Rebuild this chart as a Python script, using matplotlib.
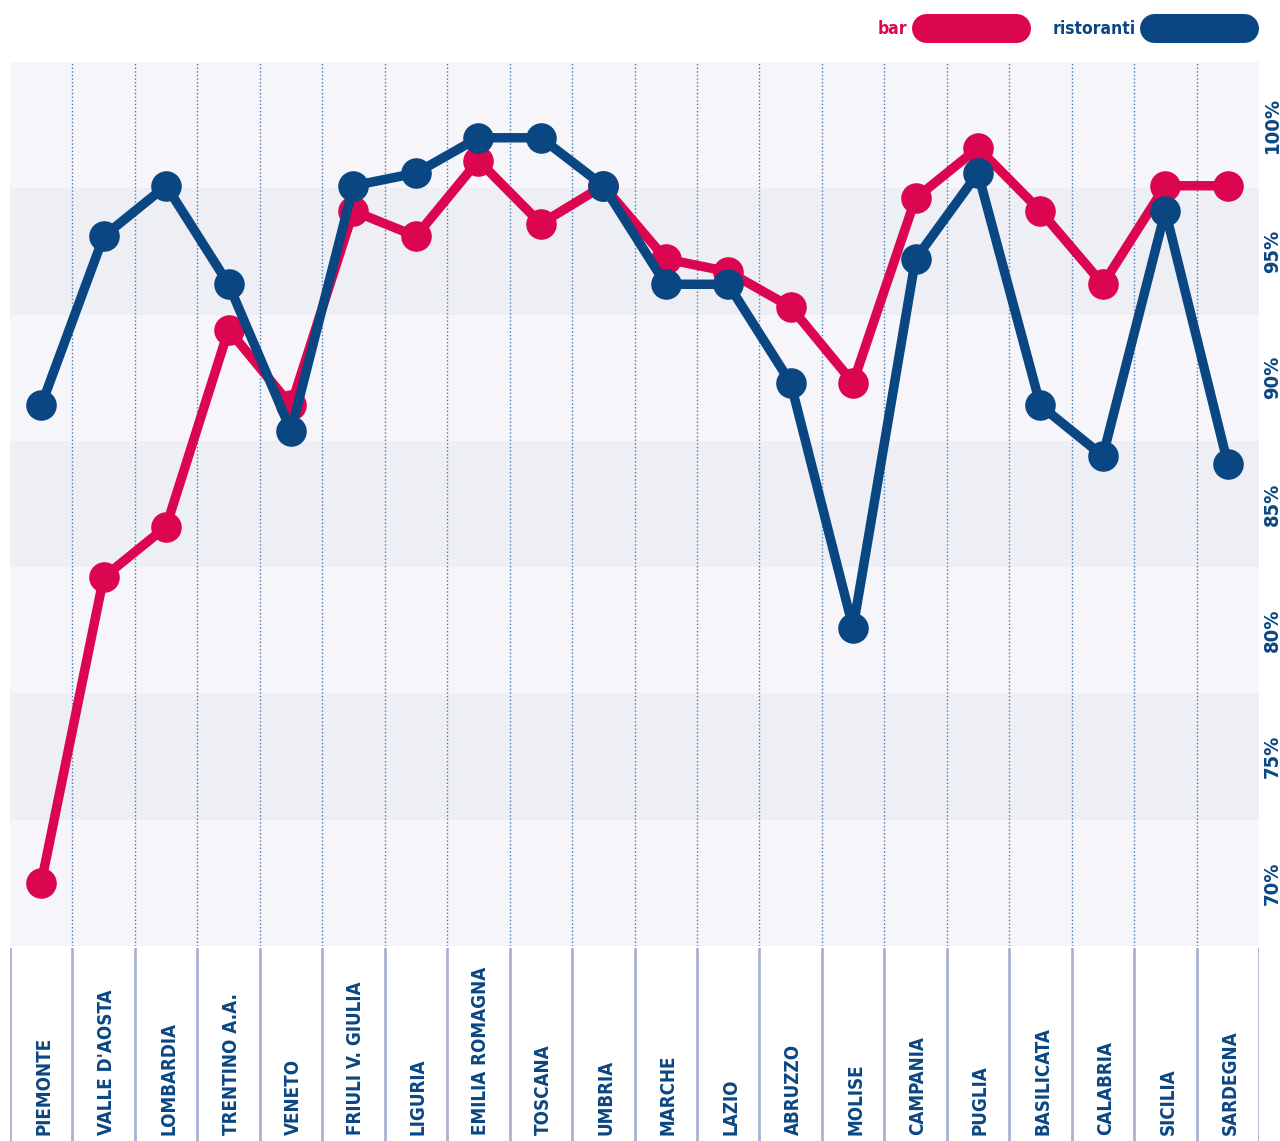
import matplotlib
matplotlib.use("Agg")
import matplotlib.pyplot as plt
from matplotlib.lines import Line2D
import numpy as np

regions = ["PIEMONTE", "VALLE D'AOSTA", "LOMBARDIA", "TRENTINO A.A.", "VENETO",
           "FRIULI V. GIULIA", "LIGURIA", "EMILIA ROMAGNA", "TOSCANA", "UMBRIA",
           "MARCHE", "LAZIO", "ABRUZZO", "MOLISE", "CAMPANIA", "PUGLIA",
           "BASILICATA", "CALABRIA", "SICILIA", "SARDEGNA"]
bar = [70.0, 82.1, 84.1, 91.9, 88.9, 96.6, 95.6, 98.6, 96.1, 97.6,
       94.7, 94.2, 92.8, 89.8, 97.1, 99.1, 96.6, 93.7, 97.6, 97.6]
ristoranti = [88.9, 95.6, 97.6, 93.7, 87.9, 97.6, 98.1, 99.5, 99.5, 97.6,
              93.7, 93.7, 89.8, 80.1, 94.7, 98.1, 88.9, 86.9, 96.6, 86.6]
yticks = [70, 75, 80, 85, 90, 95, 100]
ytick_labels = ["70%", "75%", "80%", "85%", "90%", "95%", "100%"]
series_names = ["bar", "ristoranti"]

RED = "#DC0650"
BLUE = "#0A4682"
BAND_LIGHT = "#F5F5FA"
BAND_DARK = "#EEEFF5"
FONT = dict(family="DejaVu Sans", stretch="condensed", fontweight="bold")

W, H = 1280, 1141
fig = plt.figure(figsize=(W / 100, H / 100), dpi=100)
fig.patch.set_facecolor("white")

def fx(px):
    return px / W

def fy(py):
    return 1 - py / H

ax_left, ax_right, ax_top, ax_bot = 10, 1259, 62, 946
ax = fig.add_axes([fx(ax_left), fy(ax_bot), fx(ax_right - ax_left), (ax_bot - ax_top) / H])
n = len(regions)
x = np.arange(n)
ax.set_xlim(-0.5, n - 0.5)
ax.set_ylim(67.5, 102.5)

# bands
for i, t in enumerate(yticks):
    col = BAND_LIGHT if (len(yticks) - 1 - i) % 2 == 0 else BAND_DARK
    ax.axhspan(t - 2.5, t + 2.5, color=col, lw=0, zorder=0)

# dotted separators
for i in range(n - 1):
    ax.axvline(i + 0.5, color="#4A78B5", lw=1.0, linestyle=(0, (1, 1.6)), zorder=1)

lw = 6.8
ms = 21
ax.plot(x, bar, color=RED, lw=lw, marker="o", ms=ms, mec=RED, mfc=RED,
        solid_joinstyle="round", zorder=3)
ax.plot(x, ristoranti, color=BLUE, lw=lw, marker="o", ms=ms, mec=BLUE, mfc=BLUE,
        solid_joinstyle="round", zorder=4)

for s in ax.spines.values():
    s.set_visible(False)
ax.set_xticks([])
ax.yaxis.tick_right()
ax.set_yticks(yticks)
ax.set_yticklabels(ytick_labels, rotation=90, va="center", fontsize=14.5, color=BLUE, **FONT)
ax.tick_params(axis="y", length=0, pad=3)

# label area
lab = fig.add_axes([fx(ax_left), 0, fx(ax_right - ax_left), (H - ax_bot - 2) / H])
lab.set_xlim(-0.5, n - 0.5)
lab.set_ylim(0, 1)
lab.axis("off")
for i in range(n + 1):
    lab.axvline(i - 0.5, color="#AAB2D3", lw=2, zorder=1)
for i, r in enumerate(regions):
    lab.text(i + 0.04, 0.03, r, rotation=90, ha="center", va="bottom",
             fontsize=13.5, color=BLUE, **FONT)

# legend
def pill(x0, x1, yc, color):
    fig.add_artist(Line2D([fx(x0), fx(x1)], [fy(yc), fy(yc)], transform=fig.transFigure,
                          color=color, lw=29 * 0.72, solid_capstyle="round"))

pill(926, 1016, 28, RED)
fig.text(fx(907), fy(29), series_names[0], ha="right", va="center",
         fontsize=12.5, color=RED, **FONT)
pill(1154, 1244, 28, BLUE)
fig.text(fx(1136), fy(29), series_names[1], ha="right", va="center",
         fontsize=12.5, color=BLUE, **FONT)

fig.savefig("out.png", dpi=100, facecolor="white")
